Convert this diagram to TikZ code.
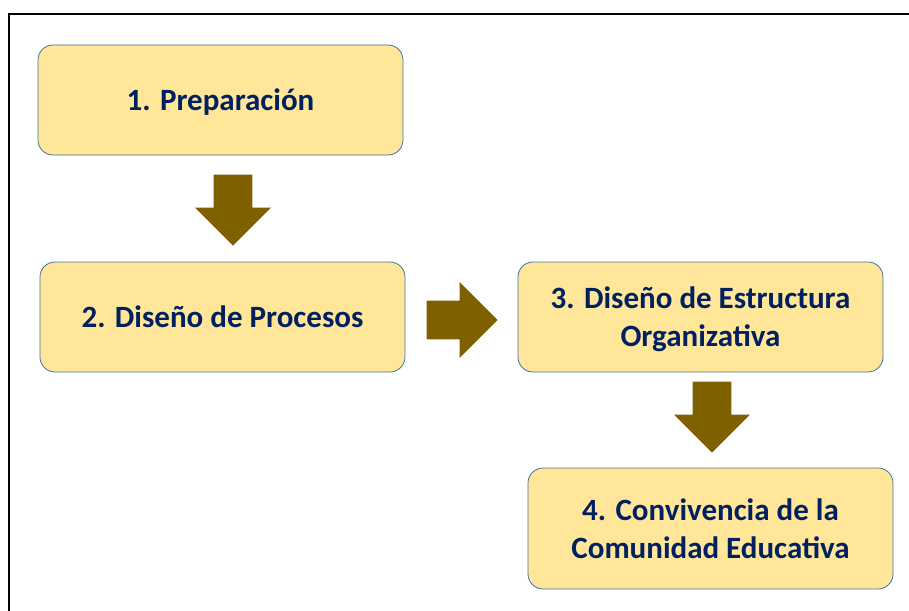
\documentclass[tikz,border=0pt]{standalone}
\usepackage{fontspec}
\setmainfont{Carlito}
\usetikzlibrary{shapes.arrows}
\definecolor{boxfill}{RGB}{255,230,153}
\definecolor{boxline}{RGB}{65,113,156}
\definecolor{arrowfill}{RGB}{127,96,0}
\definecolor{textblue}{RGB}{0,32,96}
\tikzstyle{stage}=[rectangle, draw=boxline, fill=boxfill, rounded corners=15pt,
                   line width=0.8pt, minimum width=365pt, minimum height=110pt,
                   align=center, text=textblue, text depth=0pt,
                   font=\fontsize{31}{38}\selectfont\bfseries]
\tikzstyle{flow}=[single arrow, fill=arrowfill, draw=none, inner sep=19pt,
                  minimum height=71pt, minimum width=76pt,
                  single arrow head extend=18.5pt, anchor=tip]

\begin{document}
\begin{tikzpicture}[x=1pt,y=-1pt]
  \useasboundingbox (0,0) rectangle (909,610);
  \draw[line width=1.5pt] (9,611) -- (9,14) -- (910,14);

  \node[stage] (prep) at (220.5,100) {1. Preparación};
  \node[stage] (proc) at (222.5,317) {2. Diseño de Procesos};
  \node[stage] (estr) at (700.5,317) {3. Diseño de Estructura\\Organizativa};
  \node[stage, minimum height=121pt] (conv) at (710.5,528.5)
	{4. Convivencia de la\\Comunidad Educativa};

  \node[flow, shape border rotate=270] (a1) at (233,246) {};
  \node[flow] (a2) at (498,320) {};
  \node[flow, shape border rotate=270] (a3) at (712,453) {};
\end{tikzpicture}
\end{document}
